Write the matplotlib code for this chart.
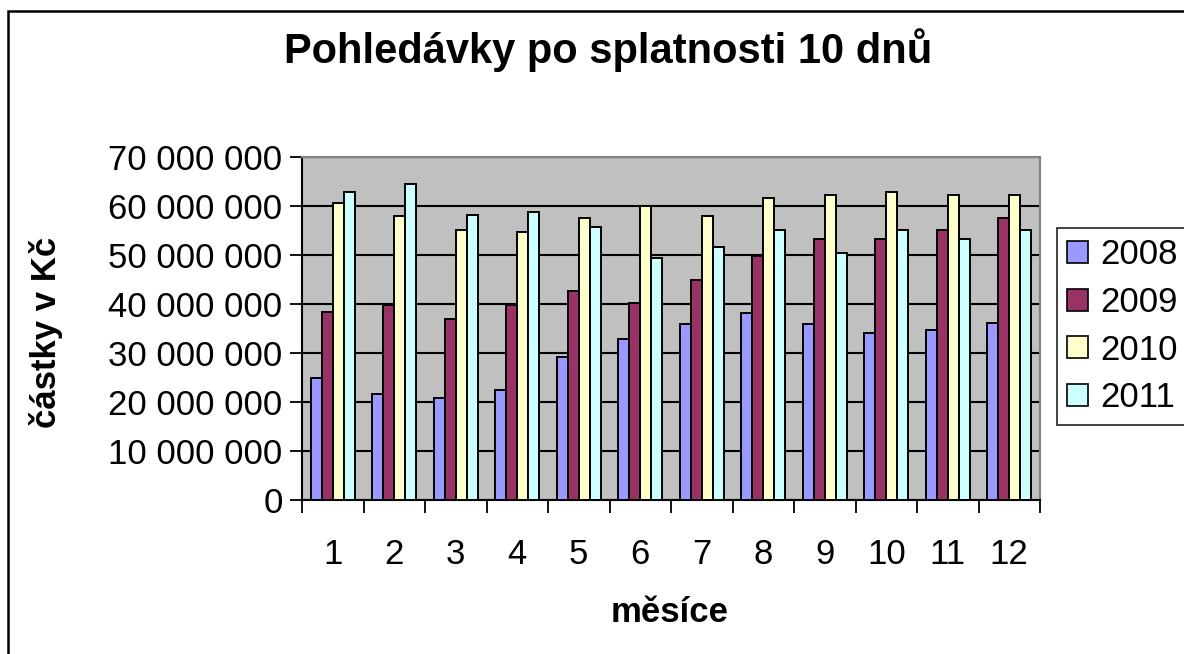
import matplotlib
matplotlib.use("Agg")
import matplotlib.pyplot as plt
import numpy as np
from matplotlib.patches import Patch, Rectangle
from matplotlib.ticker import FuncFormatter, FixedLocator

months = ["1", "2", "3", "4", "5", "6", "7", "8", "9", "10", "11", "12"]
years = ["2008", "2009", "2010", "2011"]
v2008 = [24.9, 21.6, 20.9, 22.4, 29.1, 32.8, 35.9, 38.1, 35.9, 34.0, 34.7, 36.2]
v2009 = [38.4, 39.7, 36.9, 39.7, 42.6, 40.3, 44.9, 49.7, 53.2, 53.2, 55.1, 57.6]
v2010 = [60.7, 58.0, 55.1, 54.7, 57.6, 59.9, 58.0, 61.7, 62.2, 62.9, 62.2, 62.2]
v2011 = [62.9, 64.4, 58.1, 58.8, 55.7, 49.4, 51.6, 55.1, 50.5, 55.1, 53.2, 55.1]
colors = ["#9999FF", "#993366", "#FFFFCC", "#CCFFFF"]

series = [np.array(v) * 1e6 for v in (v2008, v2009, v2010, v2011)]

plt.rcParams['font.family'] = ['Liberation Sans', 'DejaVu Sans']

W, H = 1184, 654
fig = plt.figure(figsize=(W / 100, H / 100), dpi=100)
fig.patch.set_facecolor("white")

# outer chart border (top and left visible; right and bottom run past the image)
fig.patches.append(Rectangle((8 / W, -20 / H), (W + 20) / W, (H + 20 - 11) / H,
                             transform=fig.transFigure, fill=False,
                             edgecolor="black", linewidth=1.8, clip_on=False))

ax = fig.add_axes([302 / W, (H - 500) / H, (1040 - 302) / W, (500 - 157) / H])
ax.set_facecolor("#C0C0C0")

x = np.arange(1, len(months) + 1)
bw = 0.18
for i, (vals, c, yr) in enumerate(zip(series, colors, years)):
    ax.bar(x + (i - 1.5) * bw, vals, width=bw, color=c, edgecolor="black",
           linewidth=1.4, label=yr, zorder=3)

ax.set_xlim(0.5, 12.5)
ax.set_ylim(0, 70e6)
ax.yaxis.set_major_locator(FixedLocator(np.arange(0, 70e6 + 1, 10e6)))
ax.yaxis.set_major_formatter(FuncFormatter(lambda v, p: f"{int(round(v)):,}".replace(",", " ")))
ax.grid(axis="y", color="black", linewidth=1.5, zorder=1)
ax.set_axisbelow(True)

ax.set_xticks(x)
ax.set_xticklabels(months)
ax.set_xticks(np.arange(0.5, 12.6, 1.0), minor=True)
ax.tick_params(axis="x", which="major", length=0, pad=27, labelsize=25)
ax.tick_params(axis="x", which="minor", length=9, width=1.3, direction="out", color="black")
ax.tick_params(axis="y", which="major", length=9, width=1.3, direction="out", labelsize=25, pad=5)

for s in ["top", "right"]:
    ax.spines[s].set_color("#808080")
    ax.spines[s].set_linewidth(1.5)
for s in ["left", "bottom"]:
    ax.spines[s].set_color("black")
    ax.spines[s].set_linewidth(1.5)

fig.text(608 / W, 1 - 50 / H, "Pohledávky po splatnosti 10 dnů", ha="center", va="center",
         fontsize=30, fontweight="bold")
fig.text(670 / W, 1 - 612 / H, "měsíce", ha="center", va="center",
         fontsize=25, fontweight="bold")
fig.text(46 / W, 1 - 332 / H, "částky v Kč", ha="center", va="center",
         fontsize=25, fontweight="bold", rotation=90)

handles = [Patch(facecolor=c, edgecolor="black", linewidth=1.2) for c in colors]
leg = fig.legend(handles, years, loc="upper left", bbox_to_anchor=(1057 / W, 1 - 228 / H),
                 fontsize=25, frameon=True, fancybox=False, handlelength=0.6,
                 handleheight=0.6, handletextpad=0.35, borderpad=0.3, labelspacing=0.42,
                 borderaxespad=0)
leg.get_frame().set_edgecolor("black")
leg.get_frame().set_linewidth(1.3)

fig.savefig("out.png", dpi=100)
